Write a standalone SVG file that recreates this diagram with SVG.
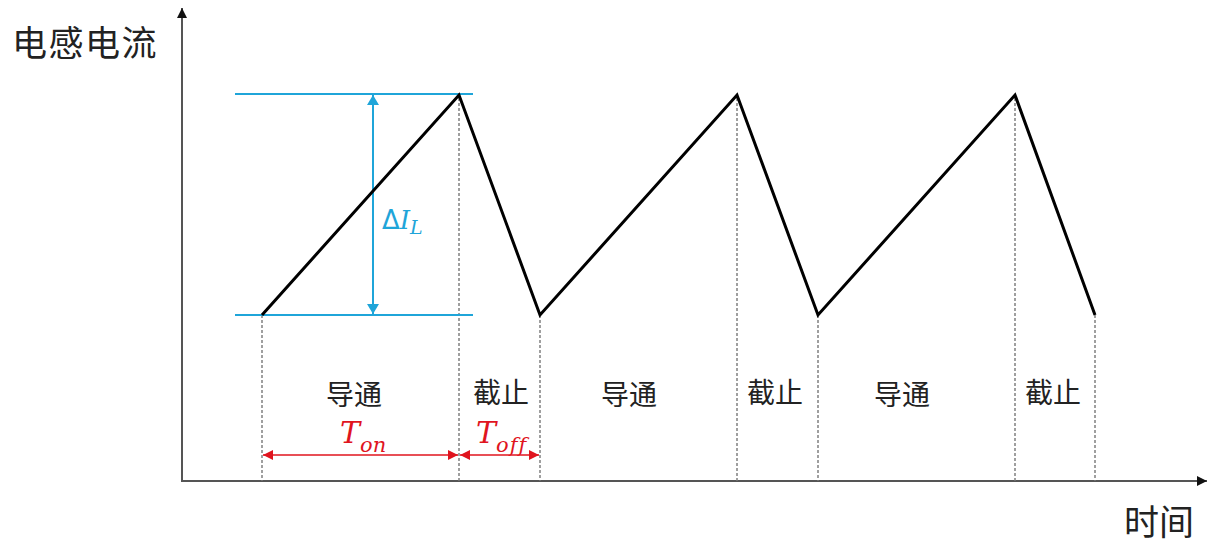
<svg xmlns="http://www.w3.org/2000/svg" width="1230" height="556" viewBox="0 0 1230 556">
<style>
.axis{stroke:#555;stroke-width:2;fill:none}
.wave{stroke:#000;stroke-width:3;fill:none;stroke-linejoin:miter}
.dash{stroke:#777;stroke-width:1.4;stroke-dasharray:3 2;fill:none}
.cyan{stroke:#1fa5d9;stroke-width:2;fill:none}
.red{stroke:#e0141e;stroke-width:1.5;fill:none}
.cjk{font-family:"Noto Sans CJK SC",sans-serif;fill:#222}
.lab{font-family:"Noto Sans CJK SC",sans-serif;font-size:28px;fill:#222;text-anchor:middle}
.math{font-family:"DejaVu Serif",serif;font-style:italic;font-variant-ligatures:none}
</style>
<defs>
<marker id="axArrow" viewBox="0 0 10 10" refX="10" refY="5" markerWidth="10" markerHeight="11" markerUnits="userSpaceOnUse" orient="auto"><path d="M0,0 L10,5 L0,10 Z" fill="#111"/></marker>
<marker id="cyArrow" viewBox="0 0 10 12" refX="10" refY="6" markerWidth="10" markerHeight="12" markerUnits="userSpaceOnUse" orient="auto"><path d="M0,0 L10,6 L0,12 Z" fill="#1fa5d9"/></marker>
<marker id="rdArrow" viewBox="0 0 10 10" refX="10" refY="5" markerWidth="10" markerHeight="10" markerUnits="userSpaceOnUse" orient="auto-start-reverse"><path d="M0,0 L10,5 L0,10 Z" fill="#e0141e"/></marker>
</defs>
<rect width="1230" height="556" fill="#fff"/>
<g id="axes">
<line class="axis" x1="182" y1="482" x2="182" y2="8" marker-end="url(#axArrow)"/>
<line class="axis" x1="182" y1="481" x2="1207" y2="481" marker-end="url(#axArrow)"/>
<text class="cjk" x="12" y="56" font-size="35" letter-spacing="1.5">电感电流</text>
<text class="cjk" x="1194" y="535" font-size="35" text-anchor="end">时间</text>
</g>
<g id="guides">
<line class="dash" x1="262" y1="315" x2="262" y2="481"/>
<line class="dash" x1="459" y1="98" x2="459" y2="481"/>
<line class="dash" x1="540" y1="315" x2="540" y2="481"/>
<line class="dash" x1="737" y1="98" x2="737" y2="481"/>
<line class="dash" x1="818" y1="315" x2="818" y2="481"/>
<line class="dash" x1="1015" y1="98" x2="1015" y2="481"/>
<line class="dash" x1="1095" y1="315" x2="1095" y2="481"/>
</g>
<g id="deltaI">
<line class="cyan" x1="235" y1="94" x2="473" y2="94"/>
<line class="cyan" x1="235" y1="315" x2="473" y2="315"/>
<line class="cyan" x1="373" y1="200" x2="373" y2="95" marker-end="url(#cyArrow)"/>
<line class="cyan" x1="373" y1="200" x2="373" y2="314" marker-end="url(#cyArrow)"/>
<text x="382" y="229" fill="#1fa5d9" font-size="26"><tspan font-family="DejaVu Sans, sans-serif">Δ</tspan><tspan class="math">I</tspan><tspan class="math" font-size="19" dy="5">L</tspan></text>
</g>
<g id="waveform">
<polyline class="wave" points="262,315 459,95 540,315 737,95 818,315 1015,95 1095,315"/>
</g>
<g id="labels">
<text class="lab" x="354" y="405">导通</text>
<text class="lab" x="501" y="403">截止</text>
<text class="lab" x="629" y="405">导通</text>
<text class="lab" x="775" y="403">截止</text>
<text class="lab" x="902" y="405">导通</text>
<text class="lab" x="1053" y="403">截止</text>
</g>
<g id="timing">
<line class="red" x1="263" y1="455" x2="458" y2="455" marker-start="url(#rdArrow)" marker-end="url(#rdArrow)"/>
<line class="red" x1="460" y1="455" x2="539" y2="455" marker-start="url(#rdArrow)" marker-end="url(#rdArrow)"/>
<text x="340" y="443" fill="#e0141e" font-size="30"><tspan class="math">T</tspan><tspan class="math" font-size="21" dy="9">on</tspan></text>
<text x="476" y="443" fill="#e0141e" font-size="30"><tspan class="math">T</tspan><tspan class="math" font-size="21" dy="9" letter-spacing="1">off</tspan></text>
</g>
</svg>
